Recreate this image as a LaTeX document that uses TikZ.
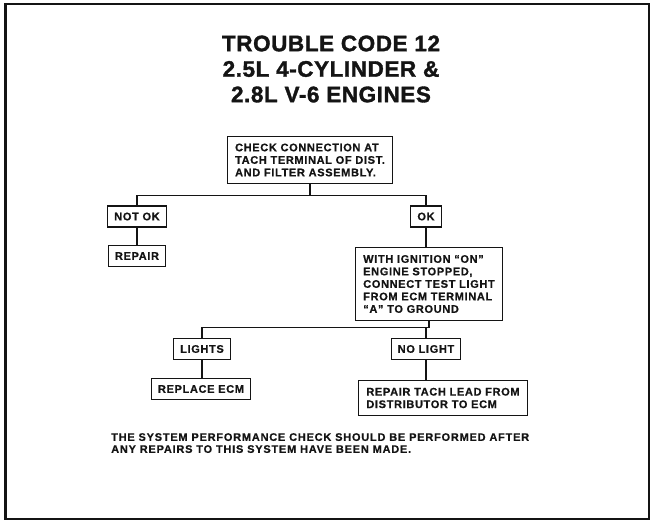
\documentclass[tikz,border=0pt]{standalone}
\usepackage{fontspec}
\setmainfont{Liberation Sans}
\usepackage{tikz}
\usetikzlibrary{positioning,calc}
\definecolor{ink}   {HTML}{141414}
\definecolor{paper} {HTML}{FFFFFF}
\tikzset{
  every node/.style={text=ink},
  % --- nodes
  stepbox/.style = {draw=ink, fill=paper, line width=1.1pt, align=left,
                    inner xsep=7.5pt, inner ysep=7.5pt,
                    font=\bfseries\fontsize{11}{12.5}\selectfont\addfontfeature{LetterSpace=6,FakeBold=0.6}},
  tag/.style     = {stepbox, inner xsep=6.5pt, inner ysep=2pt, minimum height=21pt},
  headline/.style= {align=center,
                    font=\bfseries\fontsize{22.5}{25.5}\selectfont\addfontfeature{LetterSpace=2.5,FakeBold=1.5}},
  remark/.style  = {align=left, inner sep=0pt,
                    font=\bfseries\fontsize{11}{12}\selectfont\addfontfeature{LetterSpace=7,FakeBold=0.5}},
  % --- edges
  ln/.style      = {draw=ink, line width=1.1pt},
  outerframe/.style = {draw=ink, line width=2.2pt},
}
\begin{document}
\begin{tikzpicture}[x=1pt,y=-1pt]
  \useasboundingbox (0,0) rectangle (651,522);
  \draw[outerframe] (5.5,4) rectangle (649,519);
  \draw[ink, line width=1.5pt] (5.5,4) -- (5.5,519);

  \node[headline] (ttl) at (331,69) {TROUBLE CODE 12\\2.5L 4-CYLINDER \&\\2.8L V-6 ENGINES};

  \node[stepbox] (chk) at (310,160) {CHECK CONNECTION AT\\TACH TERMINAL OF DIST.\\AND FILTER ASSEMBLY.};
  \node[tag] (notok) at (137,216.5) {NOT OK};
  \node[tag] (ok)    at (426,216.5) {OK};
  \node[tag] (rep)   at (137,256)   {REPAIR};
  \node[stepbox] (ign) at (429,284) {WITH IGNITION ``ON''\\ENGINE STOPPED,\\CONNECT TEST LIGHT\\FROM ECM TERMINAL\\``A'' TO GROUND};
  \node[tag] (lights)  at (202,349) {LIGHTS};
  \node[tag] (nolight) at (426,349) {NO LIGHT};
  \node[tag] (repecm)  at (201,389) {REPLACE ECM};
  \node[stepbox] (tach) at (443,398) {REPAIR TACH LEAD FROM\\DISTRIBUTOR TO ECM};

  \node[remark, anchor=north west] (after) at (111,433)
    {THE SYSTEM PERFORMANCE CHECK SHOULD BE PERFORMED AFTER\\ANY REPAIRS TO THIS SYSTEM HAVE BEEN MADE.};

  \coordinate (j1) at ($(chk.south)+(0,11)$);
  \coordinate (j2) at ($(ign.south)+(0,7)$);
  \draw[ln] (chk.south) -- (j1);
  \draw[ln] (notok.north) |- (j1) -| (ok.north);
  \draw[ln] (notok) -- (rep);
  \draw[ln] (ok) -- (ok |- ign.north);
  \draw[ln] (ign.south) -- (j2);
  \draw[ln] (lights.north) |- (j2) -| (nolight.north);
  \draw[ln] (lights) -- (lights |- repecm.north);
  \draw[ln] (nolight) -- (nolight |- tach.north);
\end{tikzpicture}
\end{document}
